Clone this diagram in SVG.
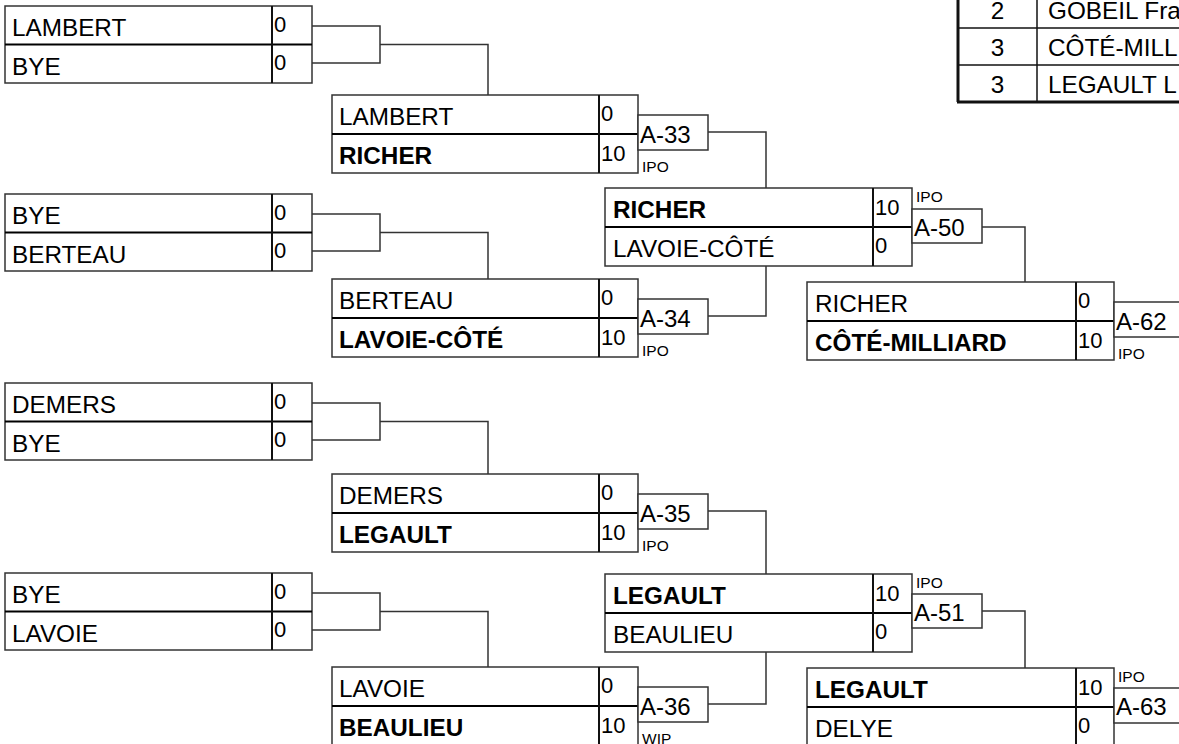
<svg xmlns="http://www.w3.org/2000/svg" width="1179" height="744" viewBox="0 0 1179 744">
<style>
text{font-family:"Liberation Sans",Arial,sans-serif;fill:#000}
.nm{font-size:24.3px}
.b{font-weight:bold}
.sc{font-size:22px}
.ab{font-size:24px}
.sm{font-size:15.5px}
.box{fill:#fff;stroke:#333;stroke-width:1.5}
.sep{stroke:#000;stroke-width:2}
.div{stroke:#111;stroke-width:2}
.con{fill:none;stroke:#333;stroke-width:1.5}
.tb{fill:none;stroke:#111;stroke-width:1.5}
.tbk{fill:none;stroke:#111;stroke-width:3}
</style>
<rect width="1179" height="744" fill="#fff"/>

<g id="connectors">
<path class="con" d="M312,26H380V63H312M380,44.5H488V95"/>
<path class="con" d="M312,214H380V251H312M380,232.5H488V279"/>
<path class="con" d="M312,403H380V440H312M380,421.5H488V474"/>
<path class="con" d="M312,593H380V630H312M380,611.5H488V667"/>
<path class="con" d="M708,132H766V188"/>
<path class="con" d="M708,316H766V266"/>
<path class="con" d="M708,511H766V574"/>
<path class="con" d="M708,704H766V652"/>
<path class="con" d="M982,227H1025V282"/>
<path class="con" d="M982,611H1025V668"/>
</g>

<g id="r1m1">
<rect class="box" x="5" y="6" width="307" height="77"/>
<line class="sep" x1="5" y1="44.5" x2="312" y2="44.5"/>
<line class="div" x1="272" y1="6" x2="272" y2="83"/>
<text class="nm" x="12" y="36">LAMBERT</text>
<text class="nm" x="12" y="75">BYE</text>
<text class="sc" x="274" y="32">0</text>
<text class="sc" x="274" y="70">0</text>
</g>
<g id="r1m2">
<rect class="box" x="5" y="194" width="307" height="77"/>
<line class="sep" x1="5" y1="232.5" x2="312" y2="232.5"/>
<line class="div" x1="272" y1="194" x2="272" y2="271"/>
<text class="nm" x="12" y="224">BYE</text>
<text class="nm" x="12" y="263">BERTEAU</text>
<text class="sc" x="274" y="220">0</text>
<text class="sc" x="274" y="258">0</text>
</g>
<g id="r1m3">
<rect class="box" x="5" y="383" width="307" height="77"/>
<line class="sep" x1="5" y1="421.5" x2="312" y2="421.5"/>
<line class="div" x1="272" y1="383" x2="272" y2="460"/>
<text class="nm" x="12" y="413">DEMERS</text>
<text class="nm" x="12" y="452">BYE</text>
<text class="sc" x="274" y="409">0</text>
<text class="sc" x="274" y="447">0</text>
</g>
<g id="r1m4">
<rect class="box" x="5" y="573" width="307" height="77"/>
<line class="sep" x1="5" y1="611.5" x2="312" y2="611.5"/>
<line class="div" x1="272" y1="573" x2="272" y2="650"/>
<text class="nm" x="12" y="603">BYE</text>
<text class="nm" x="12" y="642">LAVOIE</text>
<text class="sc" x="274" y="599">0</text>
<text class="sc" x="274" y="637">0</text>
</g>

<g id="r2m1">
<rect class="box" x="332" y="95" width="306" height="78"/>
<line class="sep" x1="332" y1="134" x2="638" y2="134"/>
<line class="div" x1="599" y1="95" x2="599" y2="173"/>
<text class="nm" x="339" y="125">LAMBERT</text>
<text class="nm b" x="339" y="164">RICHER</text>
<text class="sc" x="601" y="121">0</text>
<text class="sc" x="601" y="161">10</text>
<rect class="box" x="638" y="115" width="70" height="35"/>
<text class="ab" x="640" y="143">A-33</text>
<text class="sm" x="642" y="172">IPO</text>
</g>
<g id="r2m2">
<rect class="box" x="332" y="279" width="306" height="78"/>
<line class="sep" x1="332" y1="318" x2="638" y2="318"/>
<line class="div" x1="599" y1="279" x2="599" y2="357"/>
<text class="nm" x="339" y="309">BERTEAU</text>
<text class="nm b" x="339" y="348">LAVOIE-CÔTÉ</text>
<text class="sc" x="601" y="305">0</text>
<text class="sc" x="601" y="345">10</text>
<rect class="box" x="638" y="299" width="70" height="35"/>
<text class="ab" x="640" y="327">A-34</text>
<text class="sm" x="642" y="356">IPO</text>
</g>
<g id="r2m3">
<rect class="box" x="332" y="474" width="306" height="78"/>
<line class="sep" x1="332" y1="513" x2="638" y2="513"/>
<line class="div" x1="599" y1="474" x2="599" y2="552"/>
<text class="nm" x="339" y="504">DEMERS</text>
<text class="nm b" x="339" y="543">LEGAULT</text>
<text class="sc" x="601" y="500">0</text>
<text class="sc" x="601" y="540">10</text>
<rect class="box" x="638" y="494" width="70" height="35"/>
<text class="ab" x="640" y="522">A-35</text>
<text class="sm" x="642" y="551">IPO</text>
</g>
<g id="r2m4">
<rect class="box" x="332" y="667" width="306" height="78"/>
<line class="sep" x1="332" y1="706" x2="638" y2="706"/>
<line class="div" x1="599" y1="667" x2="599" y2="745"/>
<text class="nm" x="339" y="697">LAVOIE</text>
<text class="nm b" x="339" y="736">BEAULIEU</text>
<text class="sc" x="601" y="693">0</text>
<text class="sc" x="601" y="733">10</text>
<rect class="box" x="638" y="687" width="70" height="35"/>
<text class="ab" x="640" y="715">A-36</text>
<text class="sm" x="642" y="744">WIP</text>
</g>

<g id="r3m1">
<rect class="box" x="605" y="188" width="307" height="78"/>
<line class="sep" x1="605" y1="227" x2="912" y2="227"/>
<line class="div" x1="873" y1="188" x2="873" y2="266"/>
<text class="nm b" x="613" y="218">RICHER</text>
<text class="nm" x="613" y="257">LAVOIE-CÔTÉ</text>
<text class="sc" x="875" y="215">10</text>
<text class="sc" x="875" y="253">0</text>
<rect class="box" x="912" y="209" width="70" height="34"/>
<text class="ab" x="914" y="236">A-50</text>
<text class="sm" x="916" y="202">IPO</text>
</g>
<g id="r3m2">
<rect class="box" x="605" y="574" width="307" height="78"/>
<line class="sep" x1="605" y1="613" x2="912" y2="613"/>
<line class="div" x1="873" y1="574" x2="873" y2="652"/>
<text class="nm b" x="613" y="604">LEGAULT</text>
<text class="nm" x="613" y="643">BEAULIEU</text>
<text class="sc" x="875" y="601">10</text>
<text class="sc" x="875" y="639">0</text>
<rect class="box" x="912" y="594" width="70" height="34"/>
<text class="ab" x="914" y="621">A-51</text>
<text class="sm" x="916" y="588">IPO</text>
</g>

<g id="r4m1">
<rect class="box" x="807" y="282" width="307" height="78"/>
<line class="sep" x1="807" y1="321" x2="1114" y2="321"/>
<line class="div" x1="1076" y1="282" x2="1076" y2="360"/>
<text class="nm" x="815" y="312">RICHER</text>
<text class="nm b" x="815" y="351">CÔTÉ-MILLIARD</text>
<text class="sc" x="1078" y="308">0</text>
<text class="sc" x="1078" y="348">10</text>
<rect class="box" x="1114" y="302" width="80" height="35"/>
<text class="ab" x="1116" y="330">A-62</text>
<text class="sm" x="1118" y="359">IPO</text>
</g>
<g id="r4m2">
<rect class="box" x="807" y="668" width="307" height="78"/>
<line class="sep" x1="807" y1="707" x2="1114" y2="707"/>
<line class="div" x1="1076" y1="668" x2="1076" y2="746"/>
<text class="nm b" x="815" y="698">LEGAULT</text>
<text class="nm" x="815" y="737">DELYE</text>
<text class="sc" x="1078" y="695">10</text>
<text class="sc" x="1078" y="733">0</text>
<rect class="box" x="1114" y="688" width="80" height="35"/>
<text class="ab" x="1116" y="715">A-63</text>
<text class="sm" x="1118" y="682">IPO</text>
</g>

<g id="ranking">
<line class="tbk" x1="958" y1="-2" x2="958" y2="102"/>
<line class="tbk" x1="957" y1="102" x2="1185" y2="102"/>
<line class="tb" x1="1037" y1="-2" x2="1037" y2="102"/>
<line class="tb" x1="958" y1="28" x2="1185" y2="28"/>
<line class="tb" x1="958" y1="65" x2="1185" y2="65"/>
<text class="nm" x="997.5" y="19" text-anchor="middle">2</text>
<text class="nm" x="1048" y="19">GOBEIL Fra</text>
<text class="nm" x="997.5" y="56" text-anchor="middle">3</text>
<text class="nm" x="1048" y="56">CÔTÉ-MILL</text>
<text class="nm" x="997.5" y="93" text-anchor="middle">3</text>
<text class="nm" x="1048" y="93">LEGAULT L</text>
</g>
</svg>
